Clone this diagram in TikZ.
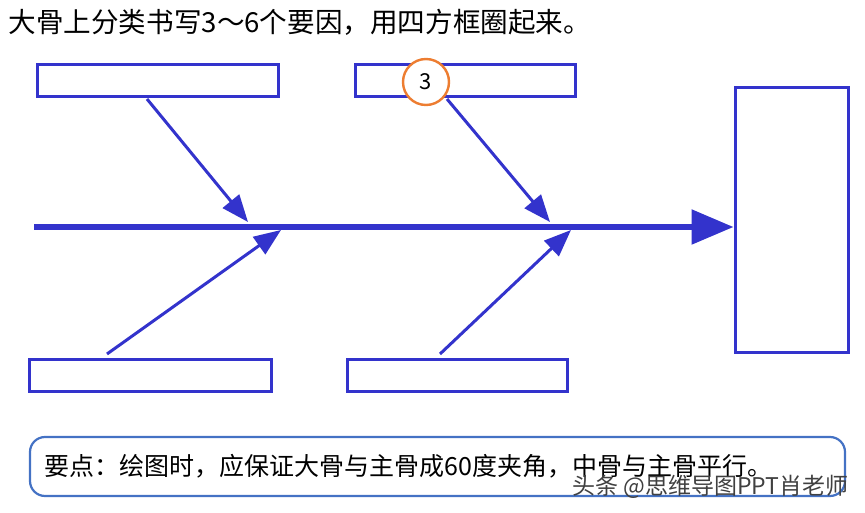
\documentclass[tikz,border=0pt]{standalone}
\usepackage{fontspec}
\setmainfont{Noto Sans CJK SC}
\usepackage{tikz}
\usepackage{xcolor}
\usetikzlibrary{arrows.meta, calc, positioning}

\definecolor{bone}{RGB}{51,51,204}
\definecolor{mark}{RGB}{237,125,49}
\definecolor{note}{RGB}{68,114,196}

\begin{document}
\begin{tikzpicture}[x=1pt, y=-1pt,
                    causebox/.style={draw=bone, line width=3pt, fill=white, inner sep=0pt},
                    bigbone/.style={draw=bone, line width=3pt, -{Triangle[length=27pt, width=21pt]}},
                    spine/.style={draw=bone, line width=5.5pt, -{Triangle[length=42pt, width=34pt]}},
                    numcircle/.style={circle, draw=mark, line width=2.4pt, fill=white, minimum size=46pt, inner sep=0pt, font=\fontsize{22}{24}\selectfont}]
                    \useasboundingbox (0, 0) rectangle (865, 513);

                    \node[anchor=west] (title) at (5, 22) {\fontsize{27.6}{30}\selectfont 大骨上分类书写3～6个要因，用四方框圈起来。};

                    \node[causebox, minimum width=241pt, minimum height=32pt] (topA) at (157.5, 81) {};
                    \node[causebox, minimum width=220pt, minimum height=32pt] (topB) at (465, 81) {};
                    \node[causebox, minimum width=242pt, minimum height=32pt] (botA) at (150, 375) {};
                    \node[causebox, minimum width=220pt, minimum height=32pt] (botB) at (457, 375) {};
                    \node[causebox, minimum width=113pt, minimum height=264pt] (head) at (791.5, 220) {};

                    \coordinate (tail) at (34, 227);
                    \coordinate (startA) at (147, 99);
                    \coordinate (startB) at (447, 99);
                    \coordinate (startC) at (107, 354);
                    \coordinate (startD) at (440, 354);
                    \coordinate (tipA) at (248, 222);
                    \coordinate (tipB) at (550, 222);
                    \coordinate (tipC) at (281, 230);
                    \coordinate (tipD) at (571, 230);

                    \draw[spine] (tail) -- (tail -| head.west);
                    \draw[bigbone] (startA) -- (tipA);
                    \draw[bigbone] (startB) -- (tipB);
                    \draw[bigbone] (startC) -- (tipC);
                    \draw[bigbone] (startD) -- (tipD);

                    \node[numcircle] (three) at (426, 82) {3};

                    \draw[note, line width=2.2pt, rounded corners=15pt] (30, 437) rectangle (845, 496);
                    \node[anchor=west] (tip) at (41, 466) {\fontsize{25}{28}\selectfont 要点：绘图时，应保证大骨与主骨成60度夹角，中骨与主骨平行。};
                    \node[anchor=east, text=black!75] (mark) at (852, 487) {\fontsize{23}{25}\selectfont 头条 @思维导图PPT肖老师};
                \end{tikzpicture}
\end{document}
